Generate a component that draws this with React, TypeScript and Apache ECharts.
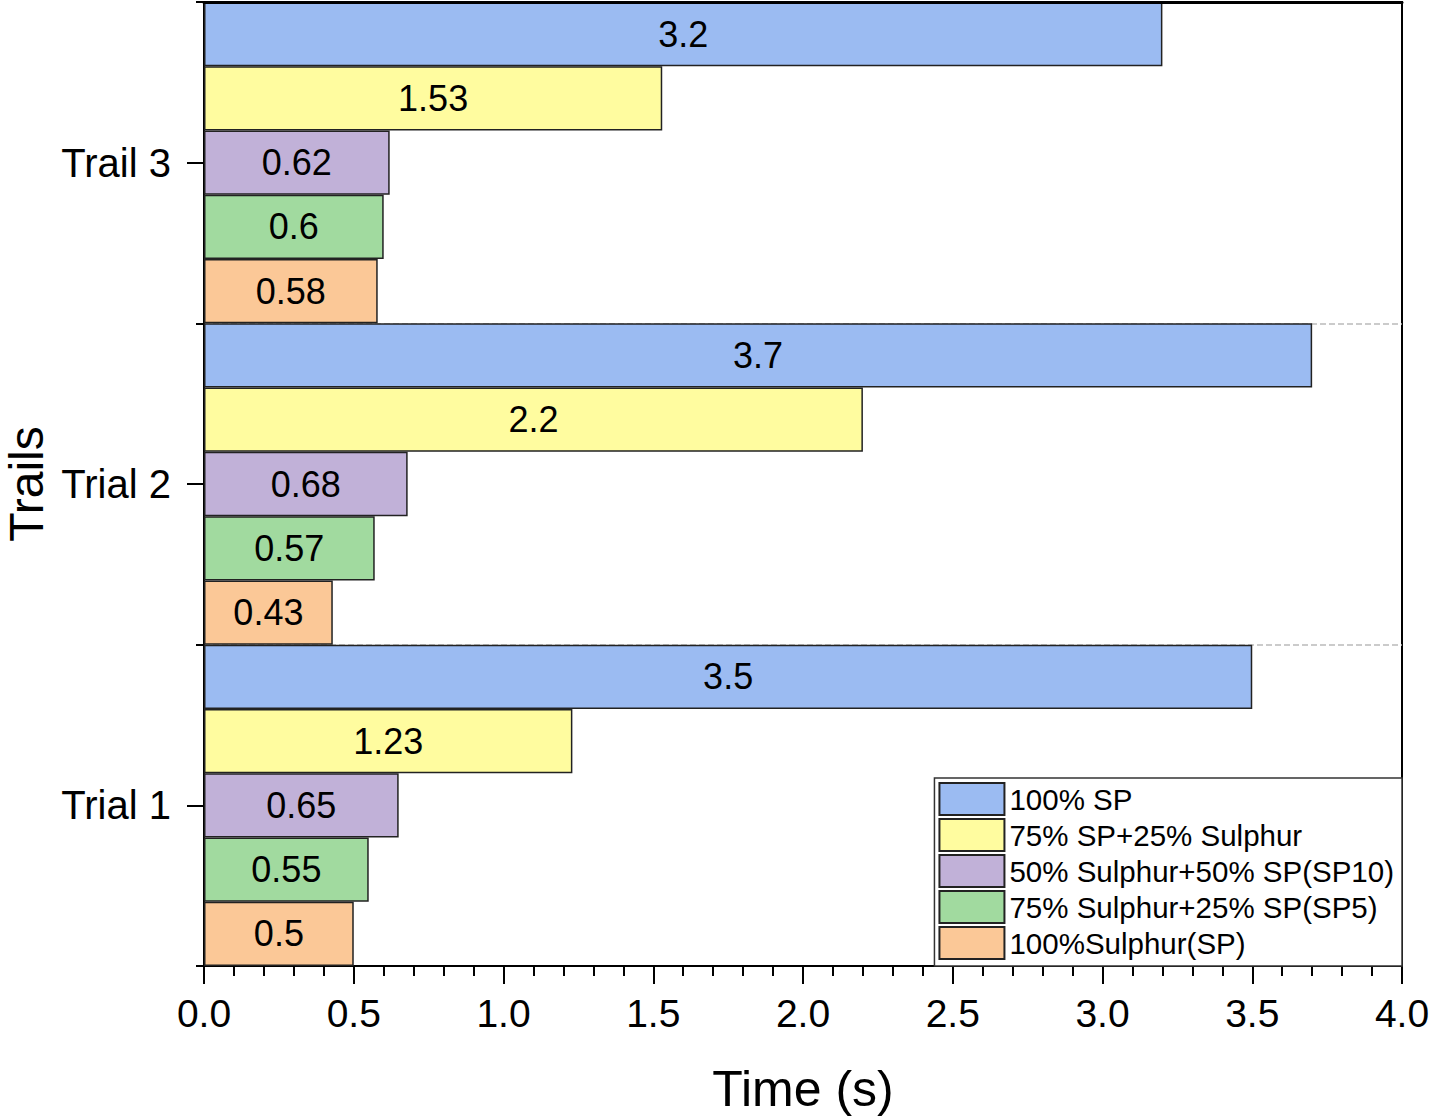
import React, { useEffect, useRef } from "react";
import * as echarts from "echarts";

const categories = ["Trial 1", "Trial 2", "Trail 3"];
const seriesNames = [
  "100% SP",
  "75% SP+25% Sulphur",
  "50% Sulphur+50% SP(SP10)",
  "75% Sulphur+25% SP(SP5)",
  "100%Sulphur(SP)",
];
const sp100 = [3.5, 3.7, 3.2];
const sp75s25 = [1.23, 2.2, 1.53];
const s50sp50 = [0.65, 0.68, 0.62];
const s75sp25 = [0.55, 0.57, 0.6];
const s100 = [0.5, 0.43, 0.58];
const seriesValues = [sp100, sp75s25, s50sp50, s75sp25, s100];
const colors = ["#9BBBF2", "#FFFC9F", "#C1B1D8", "#A1DA9F", "#FBC897"];

const FONT = "'Liberation Sans', Arial, sans-serif";

export default function App() {
  const ref = useRef<HTMLDivElement>(null);
  useEffect(() => {
    if (!ref.current) return;
    const chart = echarts.init(ref.current, null, { renderer: "svg" });
    const series = seriesNames.map((name, i) => ({
      name,
      type: "bar",
      xAxisIndex: 0,
      yAxisIndex: 0,
      data: seriesValues[i],
      barGap: "0%",
      barCategoryGap: "0%",
      itemStyle: { color: colors[i], borderColor: "#222", borderWidth: 1.5 },
      label: {
        show: true,
        position: "inside",
        color: "#000",
        fontSize: 36,
        fontFamily: FONT,
      },
      z: 3,
    }));
    chart.setOption({
      animation: false,
      backgroundColor: "#fff",
      textStyle: { fontFamily: FONT },
      grid: {
        left: 204,
        right: 27,
        top: 2,
        bottom: 152,
        show: true,
        borderColor: "#000",
        borderWidth: 2,
        containLabel: false,
        outerBoundsMode: "none",
      },
      legend: {
        data: seriesNames,
        orient: "vertical",
        right: 27,
        bottom: 152,
        padding: [4, 8, 6, 4],
        itemGap: 2,
        itemWidth: 65,
        itemHeight: 32,
        backgroundColor: "#fff",
        borderColor: "#333",
        borderWidth: 1.5,
        borderRadius: 0,
        icon: "rect",
        textStyle: { fontSize: 29.5, color: "#000", fontFamily: FONT, lineHeight: 32 },
      },
      xAxis: [
        {
          type: "value",
          min: 0,
          max: 4,
          interval: 0.5,
          name: "Time (s)",
          nameLocation: "middle",
          nameGap: 98,
          nameTextStyle: { fontSize: 50, color: "#000", fontFamily: FONT },
          axisLine: { show: true, lineStyle: { color: "#000", width: 2 } },
          axisTick: { show: true, length: 18, lineStyle: { color: "#000", width: 2 } },
          minorTick: { show: true, splitNumber: 5, length: 10, lineStyle: { color: "#000", width: 2 } },
          splitLine: { show: false },
          axisLabel: {
            color: "#000",
            fontSize: 39,
            margin: 28,
            fontFamily: FONT,
            formatter: (v: number) => v.toFixed(1),
          },
        },
        {
          type: "value",
          min: 0,
          max: 4,
          interval: 0.5,
          position: "top",
          axisLine: { show: true, onZero: false, lineStyle: { color: "#000", width: 3 } },
          axisTick: { show: false },
          axisLabel: { show: false },
          splitLine: { show: false },
          z: 10,
        },
      ],
      yAxis: [
        {
          type: "category",
          data: categories,
          position: "left",
          axisLine: { show: true, lineStyle: { color: "#000", width: 2 } },
          axisTick: { show: true, length: 8, lineStyle: { color: "#000", width: 2 } },
          axisLabel: { show: false },
          splitLine: { show: true, lineStyle: { color: "#bbb", type: "dashed", width: 1.5 } },
        },
        {
          type: "category",
          data: categories,
          position: "left",
          name: "Trails",
          nameLocation: "middle",
          nameGap: 152,
          nameTextStyle: { fontSize: 48, lineHeight: 48, color: "#000", fontFamily: FONT },
          axisLine: { show: false },
          axisTick: { show: true, alignWithLabel: true, length: 17, lineStyle: { color: "#000", width: 2 } },
          axisLabel: { color: "#000", fontSize: 40, margin: 33, fontFamily: FONT },
          splitLine: { show: false },
        },
      ],
      series,
    });
    return () => chart.dispose();
  }, []);
  return (
    <div
      ref={ref}
      style={{ position: "absolute", left: 0, top: 0, width: 1429, height: 1118 }}
    />
  );
}
